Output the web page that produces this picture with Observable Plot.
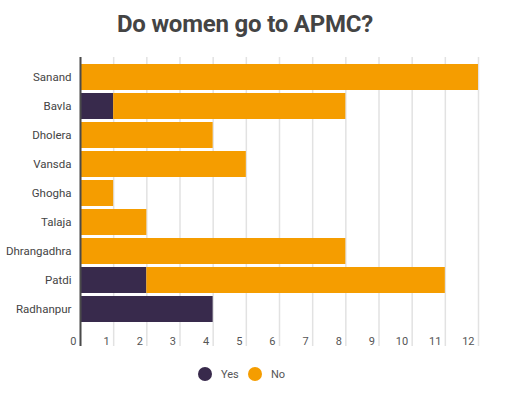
<!DOCTYPE html>
<html>
<head>
<meta charset="utf-8">
<script src="https://cdn.jsdelivr.net/npm/d3@7"></script>
<script src="https://cdn.jsdelivr.net/npm/@observablehq/plot@0.6"></script>
<style>
  body { margin: 0; background: #fff; font-family: Roboto, "Open Sans", sans-serif; }
  #wrap { position: relative; width: 510px; height: 393px; }
  #title { position: absolute; top: 10px; left: 0; width: 490px; text-align: center; font-size: 24px; font-weight: 700; color: #444; letter-spacing: -0.2px; }
  #chart { position: absolute; top: 50px; left: 0; }
  #legend { position: absolute; top: 367px; left: 0; width: 510px; height: 16px; }
  .item { position: absolute; top: 0; display: flex; align-items: center; font-size: 11px; color: #555; }
  .dot { width: 14px; height: 14px; border-radius: 50%; margin-right: 9px; }
</style>
</head>
<body>
<div id="wrap">
  <div id="title">Do women go to APMC?</div>
  <div id="chart"></div>
  <div id="legend"></div>
</div>
<script>
const categories = ["Sanand", "Bavla", "Dholera", "Vansda", "Ghogha", "Talaja", "Dhrangadhra", "Patdi", "Radhanpur"];
const series = ["Yes", "No"];
const yesValues = [0, 1, 0, 0, 0, 0, 0, 2, 4];
const noValues = [12, 7, 4, 5, 1, 2, 8, 9, 0];
const xTicks = [0, 1, 2, 3, 4, 5, 6, 7, 8, 9, 10, 11, 12];
const colors = ["#382a4c", "#f59d00"];

const data = [];
categories.forEach((c, i) => {
  data.push({category: c, series: "Yes", value: yesValues[i]});
  data.push({category: c, series: "No", value: noValues[i]});
});

const chart = Plot.plot({
  width: 510,
  height: 300,
  marginLeft: 80,
  marginRight: 32,
  marginTop: 7,
  marginBottom: 4,
  style: {fontFamily: "Roboto, sans-serif", fontSize: "11.5px", color: "#444"},
  x: {domain: [0, 12], range: [80, 478], axis: null},
  y: {domain: categories, range: [8, 277], padding: 0.12, label: null},
  color: {domain: series, range: colors},
  marks: [
    Plot.ruleX(xTicks, {x: d => d, stroke: "#e2e2e2", strokeWidth: 1.5}),
    Plot.barX(data, Plot.stackX({x: "value", y: "category", fill: "series", order: series})),
    Plot.ruleX([0], {stroke: "#4a4a4a", strokeWidth: 2}),
    Plot.axisY({tickSize: 0, tickPadding: 9, label: null, fill: "#444", fontSize: 11.5}),
    Plot.text(xTicks, {x: d => d, frameAnchor: "bottom", lineAnchor: "bottom", textAnchor: "end", dx: -4, dy: -2, text: d => String(d), fill: "#555", fontSize: 11})
  ]
});
document.getElementById("chart").appendChild(chart);

const legend = document.getElementById("legend");
const lx = [198, 248];
series.forEach((s, i) => {
  const item = document.createElement("div");
  item.className = "item";
  item.style.left = lx[i] + "px";
  item.innerHTML = `<span class="dot" style="background:${colors[i]}"></span><span>${s}</span>`;
  legend.appendChild(item);
});
</script>
</body>
</html>
